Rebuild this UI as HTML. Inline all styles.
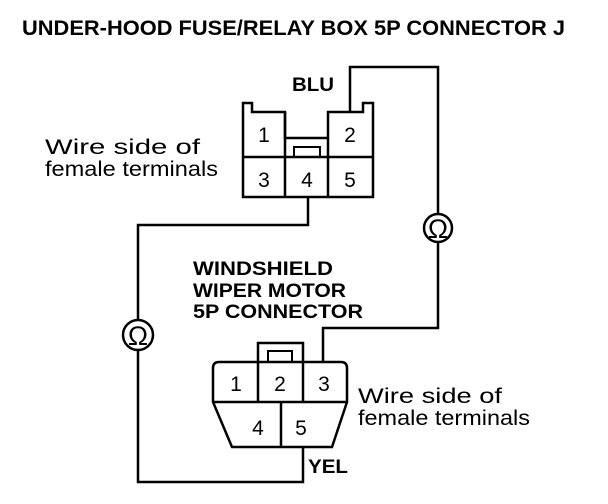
<!DOCTYPE html>
<html><head><style>body{margin:0;background:#fff}svg{display:block}</style></head><body>
<svg width="608" height="504" viewBox="0 0 608 504" xmlns="http://www.w3.org/2000/svg" font-family="Liberation Sans, Arial, sans-serif">
<rect width="608" height="504" fill="#fff"/>
<text x="22" y="35" font-size="21" font-weight="bold" textLength="543" lengthAdjust="spacingAndGlyphs">UNDER-HOOD FUSE/RELAY BOX 5P CONNECTOR J</text>
<g fill="none" stroke="#000" stroke-width="2.5">
<path d="M243,197 V103 H252 V112 H285 V138 H328 V112 H363 V103 H373 V197 Z"/>
<line x1="285" y1="112" x2="285" y2="197"/>
<line x1="328" y1="138" x2="328" y2="197"/>
<line x1="243" y1="157" x2="373" y2="157"/>
<rect x="294" y="147" width="26" height="10" stroke-width="2"/>
<polyline points="350,112 350,67 438,67 438,214"/>
<circle cx="438" cy="228" r="14"/>
<polyline points="438,242 438,328 323,328 323,362"/>
<polyline points="308,197 308,225 138,225 138,320"/>
<circle cx="138" cy="335" r="15"/>
<polyline points="138,350 138,482 303,482 303,447"/>
<path d="M219,362 H341 Q347,362 347,368 V402 L332,447 H232 L213,402 V368 Q213,362 219,362 Z"/>
<line x1="213" y1="402" x2="347" y2="402"/>
<line x1="258" y1="362" x2="258" y2="402"/>
<line x1="303" y1="362" x2="303" y2="402"/>
<line x1="281" y1="402" x2="281" y2="447"/>
<polyline points="258,362 258,343 303,343 303,362"/>
<rect x="268" y="351" width="24" height="11" stroke-width="2"/>
</g>
<g font-size="21" text-anchor="middle">
<text x="264" y="142">1</text><text x="350" y="142">2</text>
<text x="264" y="187">3</text><text x="307" y="187">4</text><text x="350" y="187">5</text>
<text x="236" y="391">1</text><text x="280" y="391">2</text><text x="324" y="391">3</text>
<text x="258" y="435">4</text><text x="301" y="435">5</text>
</g>
<g font-size="27" text-anchor="middle"><text x="438" y="238">Ω</text><text x="138" y="345">Ω</text></g>
<g font-size="19" font-weight="bold">
<text x="292" y="91" textLength="42" lengthAdjust="spacingAndGlyphs">BLU</text>
<text x="193" y="275" textLength="140" lengthAdjust="spacingAndGlyphs">WINDSHIELD</text>
<text x="193" y="297" textLength="153" lengthAdjust="spacingAndGlyphs">WIPER MOTOR</text>
<text x="193" y="318" textLength="170" lengthAdjust="spacingAndGlyphs">5P CONNECTOR</text>
<text x="308" y="473" textLength="40" lengthAdjust="spacingAndGlyphs">YEL</text>
</g>
<g font-size="21">
<text x="45" y="154" textLength="155" lengthAdjust="spacingAndGlyphs">Wire side of</text>
<text x="45" y="176" textLength="173" lengthAdjust="spacingAndGlyphs">female terminals</text>
<text x="358" y="403" textLength="144" lengthAdjust="spacingAndGlyphs">Wire side of</text>
<text x="358" y="425" textLength="172" lengthAdjust="spacingAndGlyphs">female terminals</text>
</g>
</svg>
</body></html>
